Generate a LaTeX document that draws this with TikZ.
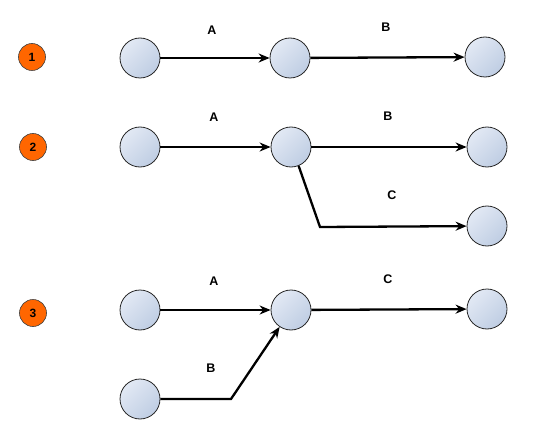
\documentclass[tikz,border=0pt]{standalone}
\usepackage{fontspec}
\setmainfont{Liberation Sans}
\usetikzlibrary{arrows.meta}
\definecolor{nodeA}{HTML}{E2E9F4}
\definecolor{nodeB}{HTML}{BFCDE3}
\definecolor{orng}{HTML}{FF6600}
\tikzset{
  evt/.style={circle, draw=black!85, line width=0.8pt, minimum size=40pt, inner sep=0pt,
    top color=nodeA, bottom color=nodeB, shading angle=45},
  num/.style={circle, draw=black!75, line width=0.6pt, fill=orng, minimum size=27pt, inner sep=0pt,
    font=\fontsize{12pt}{13pt}\selectfont\bfseries},
  lbl/.style={font=\fontsize{12.5pt}{13pt}\selectfont\bfseries},
  arr/.style={line width=2.3pt, -{Stealth[length=11pt,width=9pt]}},
}
\begin{document}
\begin{tikzpicture}[x=1pt,y=-1pt]
\useasboundingbox (0,0) rectangle (541,433);
% row 1
\node[num] (o1) at (32,57) {1};
\node[evt] (a1) at (140,58) {};
\node[evt] (b1) at (290,58) {};
\node[evt] (c1) at (485,57) {};
\draw[arr] (a1) -- (b1);
\draw[arr] (b1) -- (c1);
\node[lbl] (lA1) at (212,30) {A};
\node[lbl] (lB1) at (386,27) {B};
% row 2
\node[num] (o2) at (33,147) {2};
\node[evt] (a2) at (140,147) {};
\node[evt] (b2) at (291,147) {};
\node[evt] (c2) at (487,147) {};
\node[evt] (d2) at (487,226) {};
\coordinate (k2) at (320,227);
\draw[arr] (a2) -- (b2);
\draw[arr] (b2) -- (c2);
\draw[arr] (b2.-68) -- (k2) -- (d2);
\node[lbl] (lA2) at (214,117) {A};
\node[lbl] (lB2) at (388,116) {B};
\node[lbl] (lC2) at (392,195) {C};
% row 3
\node[num] (o3) at (33,313) {3};
\node[evt] (a3) at (140,310) {};
\node[evt] (b3) at (291,310) {};
\node[evt] (c3) at (487,309) {};
\node[evt] (d3) at (140,399) {};
\coordinate (k3) at (231,399);
\draw[arr] (a3) -- (b3);
\draw[arr] (b3) -- (c3);
\draw[arr] (d3) -- (k3) -- (b3);
\node[lbl] (lA3) at (214,281) {A};
\node[lbl] (lC3) at (388,279) {C};
\node[lbl] (lB3) at (211,368) {B};
\end{tikzpicture}
\end{document}
